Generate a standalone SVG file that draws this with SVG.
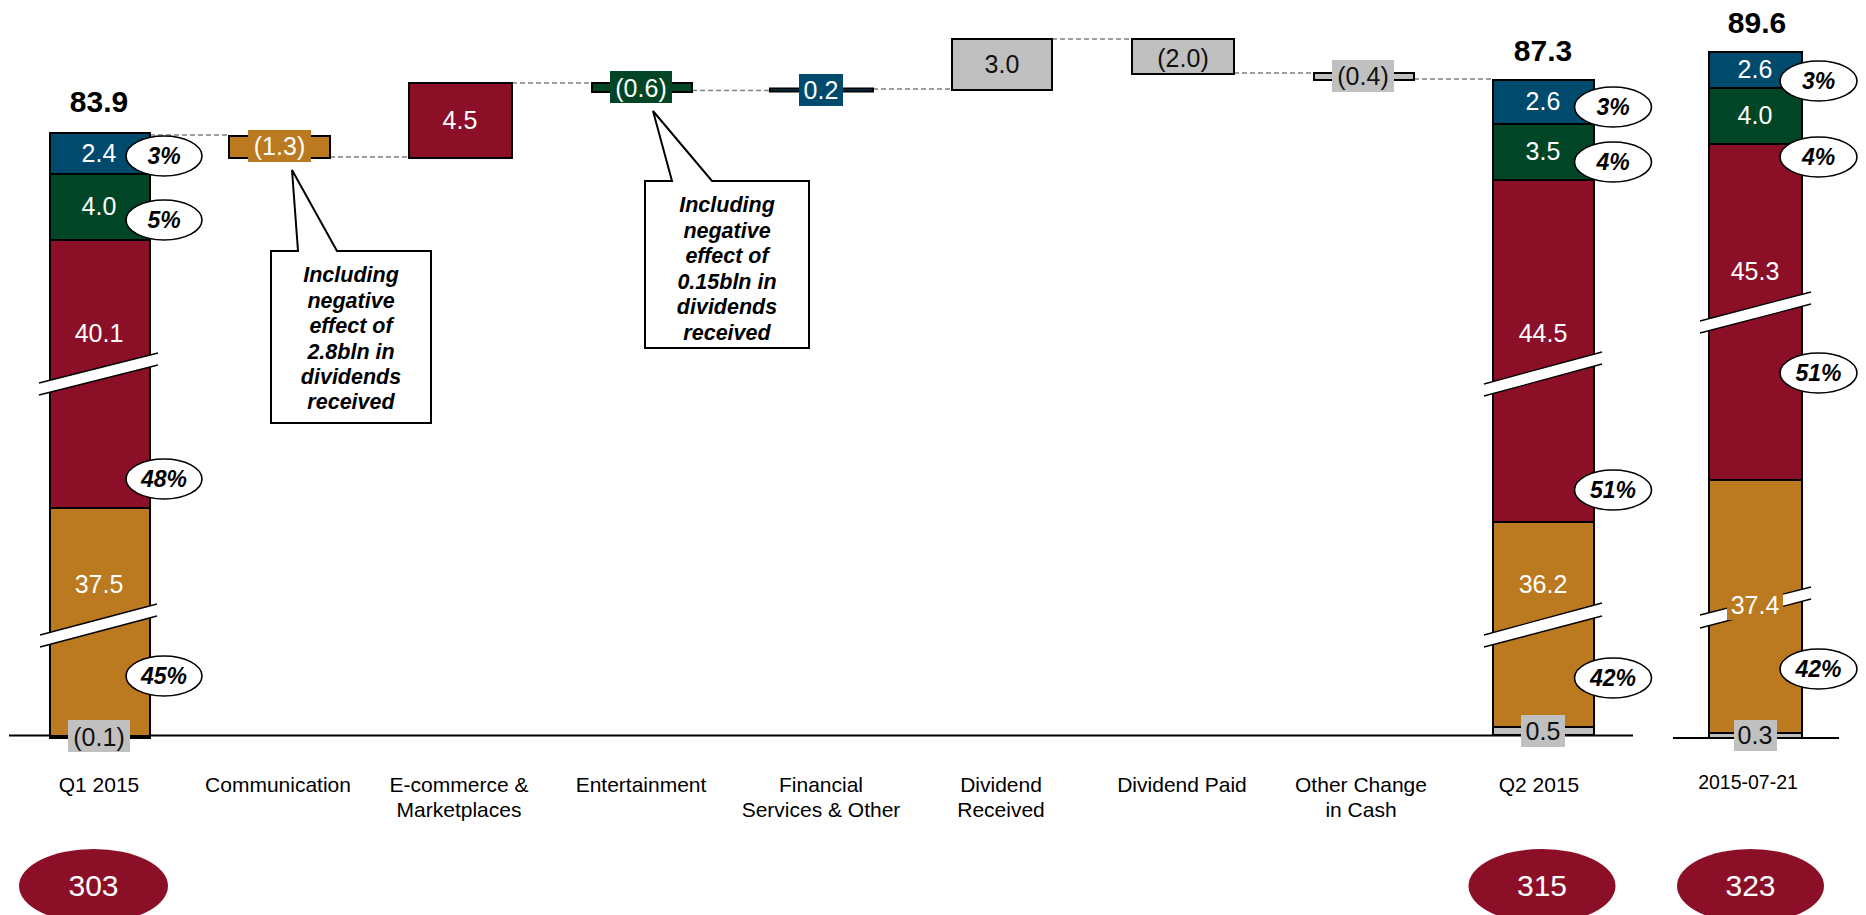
<svg xmlns="http://www.w3.org/2000/svg" width="1866" height="915" viewBox="0 0 1866 915">
<style>
.b{fill:#004A6E;stroke:#000;stroke-width:2}
.g{fill:#004626;stroke:#000;stroke-width:2}
.r{fill:#8C0F28;stroke:#000;stroke-width:2}
.o{fill:#BB7920;stroke:#000;stroke-width:2}
.y{fill:#C0C0C0;stroke:#000;stroke-width:2}
.lbg{fill:#C0C0C0}
.v{font-family:"Liberation Sans",Arial,sans-serif;font-size:25px;fill:#fff;text-anchor:middle}
.vd{font-family:"Liberation Sans",Arial,sans-serif;font-size:25px;fill:#111;text-anchor:middle}
.pe{fill:#fff;stroke:#000;stroke-width:1.6}
.pt{font-family:"Liberation Sans",Arial,sans-serif;font-size:23px;font-weight:bold;font-style:italic;fill:#000;text-anchor:middle}
.tot{font-family:"Liberation Sans",Arial,sans-serif;font-size:30px;font-weight:bold;fill:#000;text-anchor:middle}
.ax{font-family:"Liberation Sans",Arial,sans-serif;font-size:21px;fill:#000;text-anchor:middle}
.brk{fill:#fff;stroke:none}
.brl{stroke:#000;stroke-width:1.3}
.conn{stroke:#808080;stroke-width:1.6;stroke-dasharray:5 3;fill:none}
.call{fill:#fff;stroke:#000;stroke-width:2}
.ct{font-family:"Liberation Sans",Arial,sans-serif;font-size:21.5px;font-weight:bold;font-style:italic;fill:#000;text-anchor:middle}
.bub{fill:#8C0F28}
.bt{font-family:"Liberation Sans",Arial,sans-serif;font-size:30px;fill:#fff;text-anchor:middle}
.base{stroke:#000;stroke-width:2}
</style>

<g id="connectors">
<line class="conn" x1="150" y1="135" x2="229" y2="135"/>
<line class="conn" x1="330" y1="157" x2="409" y2="157"/>
<line class="conn" x1="512" y1="83" x2="592" y2="83"/>
<line class="conn" x1="692" y1="90.5" x2="770" y2="90.5"/>
<line class="conn" x1="873" y1="89" x2="952" y2="89"/>
<line class="conn" x1="1052" y1="39" x2="1132" y2="39"/>
<line class="conn" x1="1234" y1="73" x2="1314" y2="73"/>
<line class="conn" x1="1414" y1="79" x2="1493" y2="79"/>
</g>

<g id="axes">
<line class="base" x1="9" y1="735.5" x2="1633" y2="735.5"/>
<line class="base" x1="1673" y1="738" x2="1839" y2="738"/>
</g>

<g id="q1-2015">
<rect class="b" x="50" y="133" width="100" height="41"/>
<rect class="g" x="50" y="174" width="100" height="66"/>
<rect class="r" x="50" y="240" width="100" height="268"/>
<rect class="o" x="50" y="508" width="100" height="228"/>
<rect class="y" x="50" y="736" width="100" height="2"/>
<polygon class="brk" points="39,383 158,353 158,365 39,395"/>
<line class="brl" x1="39" y1="383" x2="158" y2="353"/>
<line class="brl" x1="39" y1="395" x2="158" y2="365"/>
<polygon class="brk" points="40,635 157,604 157,616 40,647"/>
<line class="brl" x1="40" y1="635" x2="157" y2="604"/>
<line class="brl" x1="40" y1="647" x2="157" y2="616"/>
<text class="v" x="99" y="162">2.4</text>
<text class="v" x="99" y="215">4.0</text>
<text class="v" x="99" y="342">40.1</text>
<text class="v" x="99" y="593">37.5</text>
<rect class="lbg" x="68" y="720" width="62" height="32"/>
<text class="vd" x="99" y="746">(0.1)</text>
<text class="tot" x="99" y="112">83.9</text>
<ellipse class="pe" cx="164" cy="156" rx="38" ry="20"/>
<text class="pt" x="164" y="164">3%</text>
<ellipse class="pe" cx="164" cy="220" rx="38" ry="20"/>
<text class="pt" x="164" y="228">5%</text>
<ellipse class="pe" cx="164" cy="479" rx="38" ry="20"/>
<text class="pt" x="164" y="487">48%</text>
<ellipse class="pe" cx="164" cy="676" rx="38" ry="20"/>
<text class="pt" x="164" y="684">45%</text>
<text class="ax" x="99" y="792">Q1 2015</text>
<ellipse class="bub" cx="93.5" cy="886" rx="74.5" ry="37"/>
<text class="bt" x="93.5" y="896">303</text>
</g>

<g id="communication">
<rect class="o" x="229" y="136" width="101" height="22"/>
<rect fill="#BB7920" x="248" y="130" width="63" height="32"/>
<text class="v" x="279.5" y="155">(1.3)</text>
<text class="ax" x="278" y="792">Communication</text>
</g>

<g id="callout-communication">
<polygon class="call" points="271,251 298,251 292,170 337,251 431,251 431,423 271,423"/>
<text class="ct" x="351" y="282">Including</text>
<text class="ct" x="351" y="307.5">negative</text>
<text class="ct" x="351" y="333">effect of</text>
<text class="ct" x="351" y="358.5">2.8bln in</text>
<text class="ct" x="351" y="384">dividends</text>
<text class="ct" x="351" y="409">received</text>
</g>

<g id="ecommerce">
<rect class="r" x="409" y="83" width="103" height="75"/>
<text class="v" x="460" y="129">4.5</text>
<text class="ax" x="459" y="792">E-commerce &amp;</text>
<text class="ax" x="459" y="817">Marketplaces</text>
</g>

<g id="entertainment">
<rect class="g" x="592" y="83" width="100" height="9"/>
<rect fill="#004626" x="610" y="71" width="62" height="32"/>
<text class="v" x="641" y="97">(0.6)</text>
<text class="ax" x="641" y="792">Entertainment</text>
</g>

<g id="callout-entertainment">
<polygon class="call" points="645,181 672,181 653,111 712,181 809,181 809,348 645,348"/>
<text class="ct" x="727" y="212">Including</text>
<text class="ct" x="727" y="237.5">negative</text>
<text class="ct" x="727" y="263">effect of</text>
<text class="ct" x="727" y="288.5">0.15bln in</text>
<text class="ct" x="727" y="314">dividends</text>
<text class="ct" x="727" y="339.5">received</text>
</g>

<g id="financial">
<rect class="b" x="770" y="88.5" width="103" height="3"/>
<rect fill="#004A6E" x="799" y="74" width="44" height="32"/>
<text class="v" x="821" y="99">0.2</text>
<text class="ax" x="821" y="792">Financial</text>
<text class="ax" x="821" y="817">Services &amp; Other</text>
</g>

<g id="dividend-received">
<rect class="y" x="952" y="39" width="100" height="51"/>
<text class="vd" x="1002" y="73">3.0</text>
<text class="ax" x="1001" y="792">Dividend</text>
<text class="ax" x="1001" y="817">Received</text>
</g>

<g id="dividend-paid">
<rect class="y" x="1132" y="39" width="102" height="35"/>
<text class="vd" x="1183" y="67">(2.0)</text>
<text class="ax" x="1182" y="792">Dividend Paid</text>
</g>

<g id="other-change">
<rect class="y" x="1314" y="73" width="100" height="7"/>
<rect class="lbg" x="1332" y="60" width="62" height="32"/>
<text class="vd" x="1363" y="85">(0.4)</text>
<text class="ax" x="1361" y="792">Other Change</text>
<text class="ax" x="1361" y="817">in Cash</text>
</g>

<g id="q2-2015">
<rect class="b" x="1493" y="80" width="101" height="44"/>
<rect class="g" x="1493" y="124" width="101" height="56"/>
<rect class="r" x="1493" y="180" width="101" height="342"/>
<rect class="o" x="1493" y="522" width="101" height="205"/>
<rect class="y" x="1493" y="727" width="101" height="8"/>
<polygon class="brk" points="1484,384 1602,352 1602,364 1484,396"/>
<line class="brl" x1="1484" y1="384" x2="1602" y2="352"/>
<line class="brl" x1="1484" y1="396" x2="1602" y2="364"/>
<polygon class="brk" points="1484,635 1602,603 1602,616 1484,647"/>
<line class="brl" x1="1484" y1="635" x2="1602" y2="603"/>
<line class="brl" x1="1484" y1="647" x2="1602" y2="616"/>
<text class="v" x="1543" y="110">2.6</text>
<text class="v" x="1543" y="160">3.5</text>
<text class="v" x="1543" y="342">44.5</text>
<text class="v" x="1543" y="593">36.2</text>
<rect class="lbg" x="1521" y="715" width="44" height="32"/>
<text class="vd" x="1543" y="740">0.5</text>
<text class="tot" x="1543" y="61">87.3</text>
<ellipse class="pe" cx="1613" cy="107" rx="38.5" ry="20"/>
<text class="pt" x="1613" y="115">3%</text>
<ellipse class="pe" cx="1613" cy="162" rx="38.5" ry="20"/>
<text class="pt" x="1613" y="170">4%</text>
<ellipse class="pe" cx="1613" cy="490" rx="38.5" ry="20"/>
<text class="pt" x="1613" y="498">51%</text>
<ellipse class="pe" cx="1613" cy="678" rx="38.5" ry="20"/>
<text class="pt" x="1613" y="686">42%</text>
<text class="ax" x="1539" y="792">Q2 2015</text>
<ellipse class="bub" cx="1542" cy="886" rx="73.5" ry="37"/>
<text class="bt" x="1542" y="896">315</text>
</g>

<g id="date-2015-07-21">
<rect class="b" x="1709" y="52" width="93" height="36"/>
<rect class="g" x="1709" y="88" width="93" height="56"/>
<rect class="r" x="1709" y="144" width="93" height="336"/>
<rect class="o" x="1709" y="480" width="93" height="253"/>
<rect class="y" x="1709" y="733" width="93" height="5"/>
<polygon class="brk" points="1700,321 1811,292 1811,304 1700,333"/>
<line class="brl" x1="1700" y1="321" x2="1811" y2="292"/>
<line class="brl" x1="1700" y1="333" x2="1811" y2="304"/>
<polygon class="brk" points="1700,615 1811,587 1811,599 1700,628"/>
<line class="brl" x1="1700" y1="615" x2="1811" y2="587"/>
<line class="brl" x1="1700" y1="628" x2="1811" y2="599"/>
<rect fill="#BB7920" x="1727" y="593" width="56" height="27"/>
<text class="v" x="1755" y="78">2.6</text>
<text class="v" x="1755" y="124">4.0</text>
<text class="v" x="1755" y="280">45.3</text>
<text class="v" x="1755" y="614">37.4</text>
<rect class="lbg" x="1734" y="720" width="43" height="31"/>
<text class="vd" x="1755" y="744">0.3</text>
<text class="tot" x="1757" y="33">89.6</text>
<ellipse class="pe" cx="1818.5" cy="81" rx="38.5" ry="20"/>
<text class="pt" x="1818.5" y="89">3%</text>
<ellipse class="pe" cx="1818.5" cy="157" rx="38.5" ry="20"/>
<text class="pt" x="1818.5" y="165">4%</text>
<ellipse class="pe" cx="1818.5" cy="373" rx="38.5" ry="20"/>
<text class="pt" x="1818.5" y="381">51%</text>
<ellipse class="pe" cx="1818.5" cy="669" rx="38.5" ry="20"/>
<text class="pt" x="1818.5" y="677">42%</text>
<text class="ax" x="1748" y="789" style="font-size:19.5px">2015-07-21</text>
<ellipse class="bub" cx="1750.5" cy="886" rx="73.5" ry="37"/>
<text class="bt" x="1750.5" y="896">323</text>
</g>
</svg>
